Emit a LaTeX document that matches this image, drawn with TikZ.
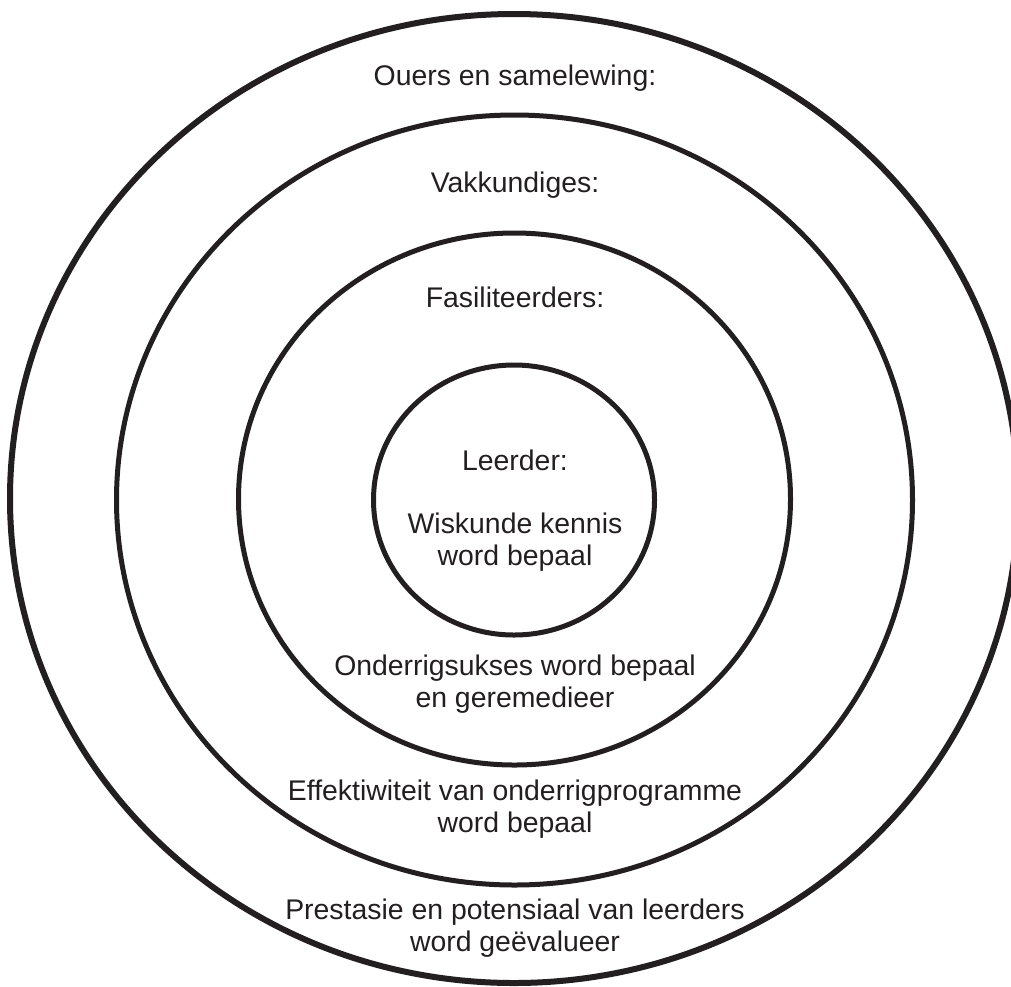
\documentclass[tikz,border=0pt]{standalone}
\usepackage{fontspec}
\setmainfont{Liberation Sans}
\definecolor{ink}{HTML}{231F20}
\begin{document}
\begin{tikzpicture}[x=1pt,y=-1pt,
  ring/.style={draw=ink,line width=5pt},
  outerring/.style={draw=ink,line width=6pt},
  lbl/.style={text=ink,font=\fontsize{28.4}{32}\selectfont,align=center,inner sep=0pt,anchor=base}]
\useasboundingbox (0,0) rectangle (1011,986);
\fill[white] (0,0) rectangle (1011,986);
% rings
\draw[outerring] (514,498.5) ellipse [x radius=504pt, y radius=484.5pt];
\draw[ring] (514.5,500) ellipse [x radius=398pt, y radius=385pt];
\draw[ring] (514.5,499) ellipse [x radius=276pt, y radius=266pt];
\draw[ring] (514,500) ellipse [x radius=140.5pt, y radius=135pt];
% labels (base anchor = baseline of the last line)
\node[lbl] (ouers) at (515,85) {Ouers en samelewing:};
\node[lbl] (vak) at (515,192) {Vakkundiges:};
\node[lbl] (fas) at (515,307) {Fasiliteerders:};
\node[lbl] (leer) at (515,470) {Leerder:};
\node[lbl] (wis) at (515,565) {Wiskunde kennis\\word bepaal};
\node[lbl] (ond) at (515,707) {Onderrigsukses word bepaal\\en geremedieer};
\node[lbl] (eff) at (515,832) {Effektiwiteit van onderrigprogramme\\word bepaal};
\node[lbl] (pre) at (515,951) {Prestasie en potensiaal van leerders\\word geëvalueer};
\end{tikzpicture}
\end{document}
